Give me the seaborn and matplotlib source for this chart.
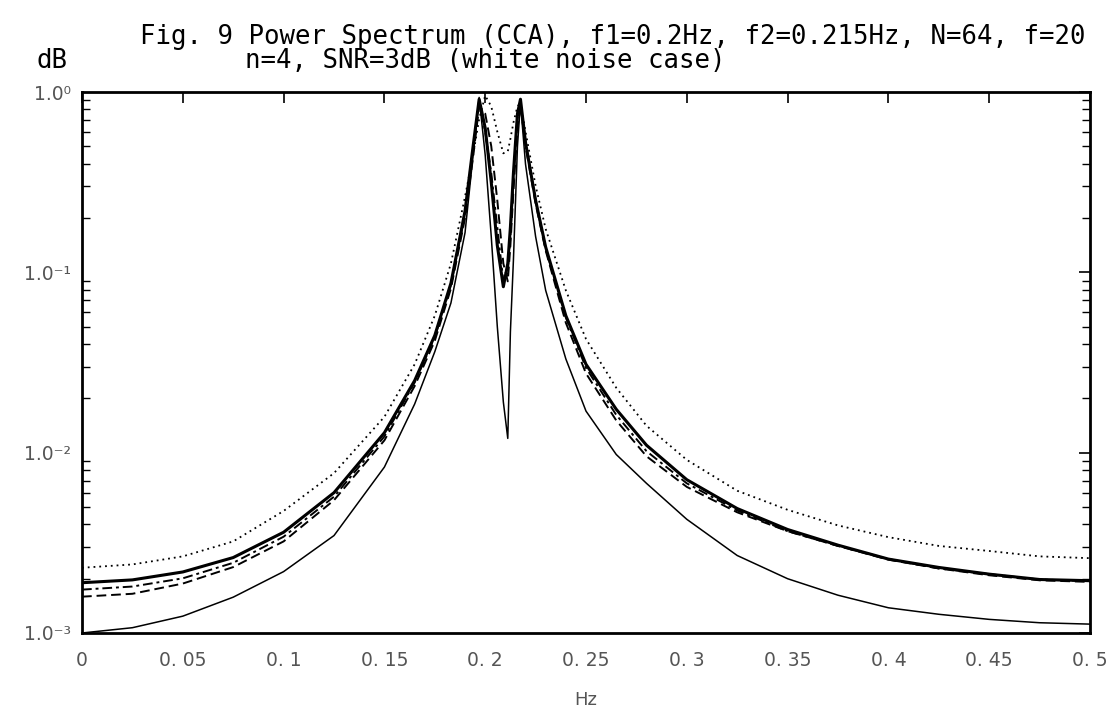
import numpy as np
import pandas as pd
import matplotlib
matplotlib.use("Agg")
import matplotlib.pyplot as plt
import seaborn as sns
from matplotlib.ticker import LogLocator, FixedLocator, NullFormatter

# ---------------- data ----------------
freq = [0, 0.025, 0.05, 0.075, 0.1, 0.125, 0.15, 0.165, 0.175, 0.183,
        0.19, 0.194, 0.197, 0.2, 0.203, 0.206, 0.209, 0.2112, 0.2125, 0.214,
        0.216, 0.2175, 0.22, 0.225, 0.23, 0.24, 0.25, 0.265, 0.28, 0.3,
        0.325, 0.35, 0.375, 0.4, 0.425, 0.45, 0.475, 0.5]

dotted_curve = [2.30e-3, 2.40e-3, 2.66e-3, 3.22e-3, 4.75e-3, 7.70e-3, 1.58e-2, 3.09e-2, 5.75e-2, 0.112,
                0.263, 0.447, 0.708, 0.955, 0.832, 0.603, 0.457, 0.468, 0.550, 0.676,
                0.832, 0.871, 0.603, 0.302, 0.174, 0.0794, 0.0427, 0.0229, 0.0141, 9.12e-3,
                6.15e-3, 4.82e-3, 3.95e-3, 3.40e-3, 3.04e-3, 2.85e-3, 2.66e-3, 2.60e-3]

thick_curve = [1.90e-3, 1.97e-3, 2.18e-3, 2.62e-3, 3.62e-3, 6.00e-3, 1.29e-2, 2.51e-2, 4.47e-2, 0.0871,
               0.219, 0.501, 0.912, 0.631, 0.316, 0.141, 0.0832, 0.112, 0.178, 0.355,
               0.759, 0.912, 0.525, 0.251, 0.138, 0.0575, 0.0309, 0.0174, 0.0110, 7.08e-3,
               4.90e-3, 3.75e-3, 3.07e-3, 2.57e-3, 2.31e-3, 2.12e-3, 1.98e-3, 1.95e-3]

dashdot_curve = [1.74e-3, 1.81e-3, 2.01e-3, 2.45e-3, 3.42e-3, 5.70e-3, 1.23e-2, 2.45e-2, 4.37e-2, 0.0851,
                 0.209, 0.479, 0.871, 0.603, 0.355, 0.178, 0.0891, 0.100, 0.158, 0.316,
                 0.708, 0.891, 0.525, 0.251, 0.135, 0.0562, 0.0295, 0.0162, 0.0102, 6.76e-3,
                 4.78e-3, 3.67e-3, 3.04e-3, 2.57e-3, 2.28e-3, 2.12e-3, 1.98e-3, 1.94e-3]

dashed_curve = [1.59e-3, 1.65e-3, 1.88e-3, 2.32e-3, 3.22e-3, 5.45e-3, 1.17e-2, 2.34e-2, 4.17e-2, 0.0813,
                0.200, 0.437, 0.832, 0.759, 0.501, 0.251, 0.112, 0.0891, 0.141, 0.282,
                0.631, 0.851, 0.501, 0.240, 0.132, 0.0525, 0.0275, 0.0151, 9.55e-3, 6.46e-3,
                4.67e-3, 3.67e-3, 3.04e-3, 2.55e-3, 2.28e-3, 2.09e-3, 1.96e-3, 1.92e-3]

thin_curve = [1.00e-3, 1.07e-3, 1.24e-3, 1.58e-3, 2.19e-3, 3.47e-3, 8.32e-3, 1.86e-2, 3.63e-2, 0.0676,
              0.166, 0.447, 0.933, 0.447, 0.158, 0.0501, 0.0191, 0.0120, 0.0468, 0.117,
              0.501, 0.871, 0.398, 0.158, 0.0794, 0.0331, 0.0170, 9.77e-3, 6.76e-3, 4.27e-3,
              2.69e-3, 2.00e-3, 1.62e-3, 1.38e-3, 1.27e-3, 1.19e-3, 1.14e-3, 1.12e-3]

x_ticks = [0, 0.05, 0.1, 0.15, 0.2, 0.25, 0.3, 0.35, 0.4, 0.45, 0.5]
x_tick_labels = ["0", "0. 05", "0. 1", "0. 15", "0. 2", "0. 25", "0. 3",
                 "0. 35", "0. 4", "0. 45", "0. 5"]
y_ticks = [1e-3, 1e-2, 1e-1, 1e0]
y_tick_labels = ["1.0\u207b\u00b3", "1.0\u207b\u00b2", "1.0\u207b\u00b9", "1.0\u2070"]

title_line1 = "Fig. 9 Power Spectrum (CCA), f1=0.2Hz, f2=0.215Hz, N=64, f=20"
title_line2 = "n=4, SNR=3dB (white noise case)"
y_unit = "dB"
x_label = "Hz"

# ---------------- drawing ----------------
sns.set_theme(style="white")
plt.rcParams["font.family"] = ["DejaVu Sans"]

fig = plt.figure(figsize=(11.10, 7.13), dpi=100)
ax = fig.add_axes([82 / 1110, 1 - 633 / 713, (1090 - 82) / 1110, (633 - 92) / 713])

styles = [
    (dotted_curve, dict(linestyle=(0, (1, 2.2)), linewidth=1.3)),
    (thick_curve, dict(linestyle="-", linewidth=2.2)),
    (dashdot_curve, dict(linestyle=(0, (5, 2, 1.5, 2)), linewidth=1.4)),
    (dashed_curve, dict(linestyle=(0, (5, 2.5)), linewidth=1.4)),
    (thin_curve, dict(linestyle="-", linewidth=1.1)),
]
for vals, kw in styles:
    sns.lineplot(x=freq, y=vals, ax=ax, color="black", sort=False, **kw)

ax.set_yscale("log")
ax.set_xlim(0, 0.5)
ax.set_ylim(1e-3, 1.0)

ax.set_xticks(x_ticks)
ax.set_xticklabels(x_tick_labels)
ax.yaxis.set_major_locator(FixedLocator(y_ticks))
ax.set_yticklabels(y_tick_labels)
ax.yaxis.set_minor_locator(LogLocator(base=10, subs=np.arange(2, 10)))
ax.yaxis.set_minor_formatter(NullFormatter())

ax.tick_params(axis="both", which="major", direction="in", length=8, width=1.2,
               top=True, right=True, labelsize=13.5, labelcolor="#555555",
               color="black")
ax.tick_params(axis="x", which="major", pad=13)
ax.tick_params(axis="y", which="major", pad=8)
ax.tick_params(axis="y", which="minor", direction="in", length=6, width=1.0,
               left=True, right=True, color="black")

for s in ax.spines.values():
    s.set_visible(True)
    s.set_color("black")
    s.set_linewidth(2.0)

ax.set_xlabel("")
ax.set_ylabel("")
ax.grid(False)

fig.text(586 / 1110, 1 - 700 / 713, x_label, ha="center", va="center",
         fontsize=13, color="#555555")
fig.text(140 / 1110, 1 - 37 / 713, title_line1, ha="left", va="center",
         fontsize=18.5, family=["DejaVu Sans Mono"], color="black")
fig.text(245 / 1110, 1 - 61 / 713, title_line2, ha="left", va="center",
         fontsize=18.5, family=["DejaVu Sans Mono"], color="black")
fig.text(36 / 1110, 1 - 61 / 713, y_unit, ha="left", va="center",
         fontsize=18.5, family=["DejaVu Sans Mono"], color="black")

fig.savefig("out.png", dpi=100)
